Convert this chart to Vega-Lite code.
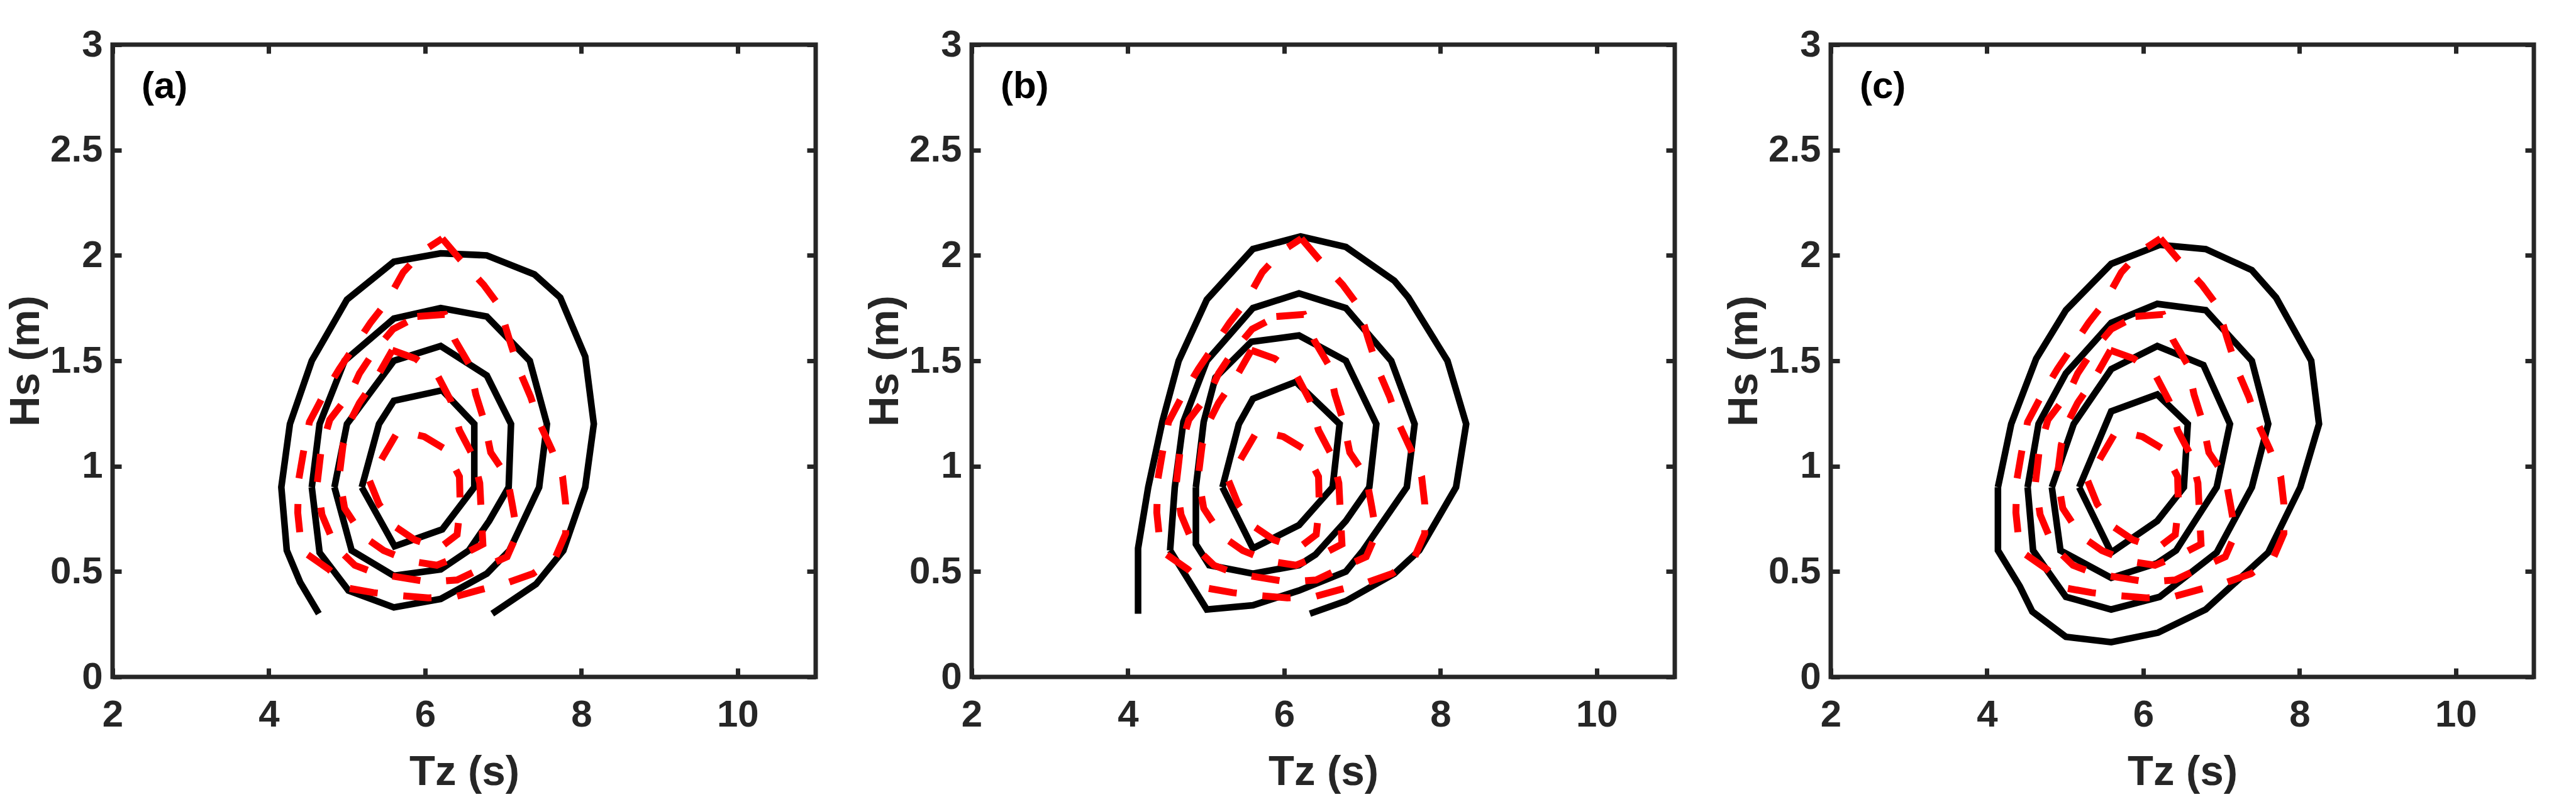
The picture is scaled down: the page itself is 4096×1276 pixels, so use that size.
{
  "$schema": "https://vega.github.io/schema/vega-lite/v6.json",
  "background": "white",
  "autosize": {"type": "pad"},
  "padding": {"left": 4, "top": 37, "right": 0, "bottom": 0},
  "bounds": "flush",
  "spacing": 248,
  "config": {
    "view": {"stroke": "#262626", "strokeWidth": 7},
    "axis": {
      "domain": false, "grid": false, "ticks": true, "tickSize": -14, "tickWidth": 7, "tickColor": "#262626",
      "labelFont": "Liberation Sans Narrow, Liberation Sans, sans-serif", "labelFontSize": 60, "labelFontWeight": "bold", "labelColor": "#262626",
      "titleFont": "Liberation Sans Narrow, Liberation Sans, sans-serif", "titleFontSize": 67, "titleFontWeight": "bold", "titleColor": "#262626",
      "labelFlush": false, "labelOverlap": false
    }
  },
  "datasets": {
    "black": [
      {"p":"a","c":1,"i":0,"x":4.64,"y":0.30},{"p":"a","c":1,"i":1,"x":4.40,"y":0.45},{"p":"a","c":1,"i":2,"x":4.23,"y":0.60},{"p":"a","c":1,"i":3,"x":4.16,"y":0.90},{"p":"a","c":1,"i":4,"x":4.27,"y":1.20},{"p":"a","c":1,"i":5,"x":4.55,"y":1.50},{"p":"a","c":1,"i":6,"x":5.00,"y":1.79},{"p":"a","c":1,"i":7,"x":5.60,"y":1.97},{"p":"a","c":1,"i":8,"x":6.20,"y":2.01},{"p":"a","c":1,"i":9,"x":6.79,"y":2.00},{"p":"a","c":1,"i":10,"x":7.40,"y":1.91},{"p":"a","c":1,"i":11,"x":7.73,"y":1.80},{"p":"a","c":1,"i":12,"x":8.05,"y":1.52},{"p":"a","c":1,"i":13,"x":8.16,"y":1.20},{"p":"a","c":1,"i":14,"x":8.05,"y":0.90},{"p":"a","c":1,"i":15,"x":7.77,"y":0.60},{"p":"a","c":1,"i":16,"x":7.42,"y":0.44},{"p":"a","c":1,"i":17,"x":6.86,"y":0.30},
      {"p":"a","c":2,"i":0,"x":4.55,"y":0.90},{"p":"a","c":2,"i":1,"x":4.65,"y":1.20},{"p":"a","c":2,"i":2,"x":4.97,"y":1.50},{"p":"a","c":2,"i":3,"x":5.60,"y":1.70},{"p":"a","c":2,"i":4,"x":6.20,"y":1.75},{"p":"a","c":2,"i":5,"x":6.79,"y":1.71},{"p":"a","c":2,"i":6,"x":7.34,"y":1.50},{"p":"a","c":2,"i":7,"x":7.56,"y":1.20},{"p":"a","c":2,"i":8,"x":7.46,"y":0.90},{"p":"a","c":2,"i":9,"x":7.08,"y":0.60},{"p":"a","c":2,"i":10,"x":6.79,"y":0.49},{"p":"a","c":2,"i":11,"x":6.20,"y":0.37},{"p":"a","c":2,"i":12,"x":5.60,"y":0.33},{"p":"a","c":2,"i":13,"x":5.02,"y":0.41},{"p":"a","c":2,"i":14,"x":4.65,"y":0.59},{"p":"a","c":2,"i":15,"x":4.55,"y":0.90},
      {"p":"a","c":3,"i":0,"x":4.84,"y":0.90},{"p":"a","c":3,"i":1,"x":5.00,"y":1.20},{"p":"a","c":3,"i":2,"x":5.60,"y":1.50},{"p":"a","c":3,"i":3,"x":6.20,"y":1.57},{"p":"a","c":3,"i":4,"x":6.79,"y":1.43},{"p":"a","c":3,"i":5,"x":7.10,"y":1.20},{"p":"a","c":3,"i":6,"x":7.07,"y":0.90},{"p":"a","c":3,"i":7,"x":6.82,"y":0.74},{"p":"a","c":3,"i":8,"x":6.56,"y":0.60},{"p":"a","c":3,"i":9,"x":6.20,"y":0.51},{"p":"a","c":3,"i":10,"x":5.60,"y":0.48},{"p":"a","c":3,"i":11,"x":5.06,"y":0.60},{"p":"a","c":3,"i":12,"x":4.84,"y":0.90},
      {"p":"a","c":4,"i":0,"x":5.19,"y":0.90},{"p":"a","c":4,"i":1,"x":5.41,"y":1.20},{"p":"a","c":4,"i":2,"x":5.60,"y":1.31},{"p":"a","c":4,"i":3,"x":6.22,"y":1.36},{"p":"a","c":4,"i":4,"x":6.63,"y":1.20},{"p":"a","c":4,"i":5,"x":6.63,"y":0.90},{"p":"a","c":4,"i":6,"x":6.22,"y":0.70},{"p":"a","c":4,"i":7,"x":5.61,"y":0.62},{"p":"a","c":4,"i":8,"x":5.19,"y":0.90},
      {"p":"b","c":1,"i":0,"x":4.13,"y":0.30},{"p":"b","c":1,"i":1,"x":4.13,"y":0.61},{"p":"b","c":1,"i":2,"x":4.26,"y":0.90},{"p":"b","c":1,"i":3,"x":4.44,"y":1.21},{"p":"b","c":1,"i":4,"x":4.65,"y":1.50},{"p":"b","c":1,"i":5,"x":5.01,"y":1.79},{"p":"b","c":1,"i":6,"x":5.60,"y":2.03},{"p":"b","c":1,"i":7,"x":6.21,"y":2.09},{"p":"b","c":1,"i":8,"x":6.79,"y":2.04},{"p":"b","c":1,"i":9,"x":7.41,"y":1.88},{"p":"b","c":1,"i":10,"x":7.59,"y":1.80},{"p":"b","c":1,"i":11,"x":8.09,"y":1.50},{"p":"b","c":1,"i":12,"x":8.33,"y":1.20},{"p":"b","c":1,"i":13,"x":8.20,"y":0.90},{"p":"b","c":1,"i":14,"x":7.73,"y":0.60},{"p":"b","c":1,"i":15,"x":7.41,"y":0.49},{"p":"b","c":1,"i":16,"x":6.79,"y":0.36},{"p":"b","c":1,"i":17,"x":6.33,"y":0.30},
      {"p":"b","c":2,"i":0,"x":4.54,"y":0.60},{"p":"b","c":2,"i":1,"x":4.60,"y":0.90},{"p":"b","c":2,"i":2,"x":4.71,"y":1.21},{"p":"b","c":2,"i":3,"x":5.01,"y":1.50},{"p":"b","c":2,"i":4,"x":5.60,"y":1.75},{"p":"b","c":2,"i":5,"x":6.19,"y":1.82},{"p":"b","c":2,"i":6,"x":6.79,"y":1.75},{"p":"b","c":2,"i":7,"x":7.37,"y":1.50},{"p":"b","c":2,"i":8,"x":7.67,"y":1.20},{"p":"b","c":2,"i":9,"x":7.57,"y":0.90},{"p":"b","c":2,"i":10,"x":7.01,"y":0.60},{"p":"b","c":2,"i":11,"x":6.79,"y":0.50},{"p":"b","c":2,"i":12,"x":6.19,"y":0.41},{"p":"b","c":2,"i":13,"x":5.60,"y":0.34},{"p":"b","c":2,"i":14,"x":5.01,"y":0.32},{"p":"b","c":2,"i":15,"x":4.54,"y":0.60},
      {"p":"b","c":3,"i":0,"x":4.87,"y":0.90},{"p":"b","c":3,"i":1,"x":4.97,"y":1.21},{"p":"b","c":3,"i":2,"x":5.12,"y":1.42},{"p":"b","c":3,"i":3,"x":5.58,"y":1.59},{"p":"b","c":3,"i":4,"x":6.19,"y":1.62},{"p":"b","c":3,"i":5,"x":6.79,"y":1.50},{"p":"b","c":3,"i":6,"x":7.18,"y":1.20},{"p":"b","c":3,"i":7,"x":7.09,"y":0.90},{"p":"b","c":3,"i":8,"x":6.79,"y":0.74},{"p":"b","c":3,"i":9,"x":6.40,"y":0.58},{"p":"b","c":3,"i":10,"x":6.19,"y":0.53},{"p":"b","c":3,"i":11,"x":5.60,"y":0.49},{"p":"b","c":3,"i":12,"x":5.04,"y":0.53},{"p":"b","c":3,"i":13,"x":4.87,"y":0.63},{"p":"b","c":3,"i":14,"x":4.87,"y":0.90},
      {"p":"b","c":4,"i":0,"x":5.21,"y":0.90},{"p":"b","c":4,"i":1,"x":5.42,"y":1.20},{"p":"b","c":4,"i":2,"x":5.60,"y":1.32},{"p":"b","c":4,"i":3,"x":6.15,"y":1.40},{"p":"b","c":4,"i":4,"x":6.71,"y":1.20},{"p":"b","c":4,"i":5,"x":6.62,"y":0.90},{"p":"b","c":4,"i":6,"x":6.19,"y":0.72},{"p":"b","c":4,"i":7,"x":5.60,"y":0.61},{"p":"b","c":4,"i":8,"x":5.21,"y":0.90},
      {"p":"c","c":1,"i":0,"x":4.14,"y":0.90},{"p":"c","c":1,"i":1,"x":4.14,"y":0.60},{"p":"c","c":1,"i":2,"x":4.42,"y":0.43},{"p":"c","c":1,"i":3,"x":4.58,"y":0.31},{"p":"c","c":1,"i":4,"x":5.01,"y":0.19},{"p":"c","c":1,"i":5,"x":5.59,"y":0.165},{"p":"c","c":1,"i":6,"x":6.19,"y":0.21},{"p":"c","c":1,"i":7,"x":6.80,"y":0.32},{"p":"c","c":1,"i":8,"x":7.60,"y":0.59},{"p":"c","c":1,"i":9,"x":8.01,"y":0.90},{"p":"c","c":1,"i":10,"x":8.25,"y":1.20},{"p":"c","c":1,"i":11,"x":8.15,"y":1.50},{"p":"c","c":1,"i":12,"x":7.70,"y":1.80},{"p":"c","c":1,"i":13,"x":7.39,"y":1.93},{"p":"c","c":1,"i":14,"x":6.80,"y":2.03},{"p":"c","c":1,"i":15,"x":6.21,"y":2.05},{"p":"c","c":1,"i":16,"x":5.59,"y":1.96},{"p":"c","c":1,"i":17,"x":5.01,"y":1.74},{"p":"c","c":1,"i":18,"x":4.63,"y":1.51},{"p":"c","c":1,"i":19,"x":4.31,"y":1.20},{"p":"c","c":1,"i":20,"x":4.14,"y":0.90},
      {"p":"c","c":2,"i":0,"x":4.52,"y":0.90},{"p":"c","c":2,"i":1,"x":4.59,"y":0.60},{"p":"c","c":2,"i":2,"x":5.01,"y":0.38},{"p":"c","c":2,"i":3,"x":5.59,"y":0.32},{"p":"c","c":2,"i":4,"x":6.21,"y":0.38},{"p":"c","c":2,"i":5,"x":6.94,"y":0.59},{"p":"c","c":2,"i":6,"x":7.39,"y":0.90},{"p":"c","c":2,"i":7,"x":7.60,"y":1.20},{"p":"c","c":2,"i":8,"x":7.39,"y":1.50},{"p":"c","c":2,"i":9,"x":6.80,"y":1.74},{"p":"c","c":2,"i":10,"x":6.18,"y":1.77},{"p":"c","c":2,"i":11,"x":5.59,"y":1.68},{"p":"c","c":2,"i":12,"x":5.01,"y":1.44},{"p":"c","c":2,"i":13,"x":4.66,"y":1.20},{"p":"c","c":2,"i":14,"x":4.52,"y":0.90},
      {"p":"c","c":3,"i":0,"x":4.83,"y":0.90},{"p":"c","c":3,"i":1,"x":4.94,"y":0.60},{"p":"c","c":3,"i":2,"x":5.59,"y":0.47},{"p":"c","c":3,"i":3,"x":6.18,"y":0.54},{"p":"c","c":3,"i":4,"x":6.42,"y":0.60},{"p":"c","c":3,"i":5,"x":6.94,"y":0.90},{"p":"c","c":3,"i":6,"x":7.11,"y":1.20},{"p":"c","c":3,"i":7,"x":6.77,"y":1.48},{"p":"c","c":3,"i":8,"x":6.18,"y":1.57},{"p":"c","c":3,"i":9,"x":5.59,"y":1.46},{"p":"c","c":3,"i":10,"x":5.11,"y":1.20},{"p":"c","c":3,"i":11,"x":4.83,"y":0.90},
      {"p":"c","c":4,"i":0,"x":5.18,"y":0.90},{"p":"c","c":4,"i":1,"x":5.59,"y":0.59},{"p":"c","c":4,"i":2,"x":6.18,"y":0.74},{"p":"c","c":4,"i":3,"x":6.52,"y":0.90},{"p":"c","c":4,"i":4,"x":6.57,"y":1.20},{"p":"c","c":4,"i":5,"x":6.18,"y":1.34},{"p":"c","c":4,"i":6,"x":5.59,"y":1.26},{"p":"c","c":4,"i":7,"x":5.18,"y":0.90}
    ],
    "red": [
      {"c":1,"i":0,"x":6.22,"y":2.08},{"c":1,"i":1,"x":6.45,"y":1.98},{"c":1,"i":2,"x":6.75,"y":1.86},{"c":1,"i":3,"x":6.95,"y":1.76},{"c":1,"i":4,"x":7.08,"y":1.60},{"c":1,"i":5,"x":7.20,"y":1.46},{"c":1,"i":6,"x":7.35,"y":1.33},{"c":1,"i":7,"x":7.47,"y":1.20},{"c":1,"i":8,"x":7.62,"y":1.08},{"c":1,"i":9,"x":7.76,"y":0.95},{"c":1,"i":10,"x":7.80,"y":0.82},{"c":1,"i":11,"x":7.80,"y":0.68},{"c":1,"i":12,"x":7.66,"y":0.56},{"c":1,"i":13,"x":7.38,"y":0.49},{"c":1,"i":14,"x":7.04,"y":0.445},{"c":1,"i":15,"x":6.72,"y":0.415},{"c":1,"i":16,"x":6.38,"y":0.38},{"c":1,"i":17,"x":6.04,"y":0.375},{"c":1,"i":18,"x":5.70,"y":0.385},{"c":1,"i":19,"x":5.34,"y":0.40},{"c":1,"i":20,"x":5.03,"y":0.42},{"c":1,"i":21,"x":4.77,"y":0.51},{"c":1,"i":22,"x":4.42,"y":0.60},{"c":1,"i":23,"x":4.37,"y":0.78},{"c":1,"i":24,"x":4.38,"y":0.93},{"c":1,"i":25,"x":4.44,"y":1.06},{"c":1,"i":26,"x":4.52,"y":1.21},{"c":1,"i":27,"x":4.72,"y":1.35},{"c":1,"i":28,"x":4.90,"y":1.46},{"c":1,"i":29,"x":5.10,"y":1.57},{"c":1,"i":30,"x":5.30,"y":1.68},{"c":1,"i":31,"x":5.51,"y":1.78},{"c":1,"i":32,"x":5.72,"y":1.92},{"c":1,"i":33,"x":5.97,"y":2.02},{"c":1,"i":34,"x":6.22,"y":2.08},
      {"c":2,"i":0,"x":5.90,"y":1.71},{"c":2,"i":1,"x":6.25,"y":1.72},{"c":2,"i":2,"x":6.38,"y":1.60},{"c":2,"i":3,"x":6.57,"y":1.48},{"c":2,"i":4,"x":6.65,"y":1.34},{"c":2,"i":5,"x":6.76,"y":1.21},{"c":2,"i":6,"x":6.84,"y":1.065},{"c":2,"i":7,"x":7.05,"y":0.95},{"c":2,"i":8,"x":7.12,"y":0.81},{"c":2,"i":9,"x":7.18,"y":0.68},{"c":2,"i":10,"x":7.05,"y":0.57},{"c":2,"i":11,"x":6.72,"y":0.515},{"c":2,"i":12,"x":6.41,"y":0.46},{"c":2,"i":13,"x":6.06,"y":0.45},{"c":2,"i":14,"x":5.72,"y":0.47},{"c":2,"i":15,"x":5.38,"y":0.49},{"c":2,"i":16,"x":5.10,"y":0.53},{"c":2,"i":17,"x":4.85,"y":0.62},{"c":2,"i":18,"x":4.68,"y":0.77},{"c":2,"i":19,"x":4.62,"y":0.92},{"c":2,"i":20,"x":4.67,"y":1.08},{"c":2,"i":21,"x":4.78,"y":1.22},{"c":2,"i":22,"x":5.05,"y":1.35},{"c":2,"i":23,"x":5.16,"y":1.44},{"c":2,"i":24,"x":5.34,"y":1.54},{"c":2,"i":25,"x":5.59,"y":1.65},{"c":2,"i":26,"x":5.90,"y":1.71},
      {"c":3,"i":0,"x":5.58,"y":1.55},{"c":3,"i":1,"x":5.88,"y":1.51},{"c":3,"i":2,"x":6.16,"y":1.43},{"c":3,"i":3,"x":6.33,"y":1.31},{"c":3,"i":4,"x":6.44,"y":1.17},{"c":3,"i":5,"x":6.61,"y":1.05},{"c":3,"i":6,"x":6.70,"y":0.92},{"c":3,"i":7,"x":6.72,"y":0.77},{"c":3,"i":8,"x":6.74,"y":0.63},{"c":3,"i":9,"x":6.48,"y":0.58},{"c":3,"i":10,"x":6.15,"y":0.53},{"c":3,"i":11,"x":5.80,"y":0.55},{"c":3,"i":12,"x":5.47,"y":0.60},{"c":3,"i":13,"x":5.20,"y":0.67},{"c":3,"i":14,"x":4.97,"y":0.80},{"c":3,"i":15,"x":4.90,"y":0.95},{"c":3,"i":16,"x":4.95,"y":1.10},{"c":3,"i":17,"x":5.05,"y":1.22},{"c":3,"i":18,"x":5.16,"y":1.30},{"c":3,"i":19,"x":5.38,"y":1.42},{"c":3,"i":20,"x":5.58,"y":1.55},
      {"c":4,"i":0,"x":5.29,"y":0.93},{"c":4,"i":1,"x":5.41,"y":0.82},{"c":4,"i":2,"x":5.63,"y":0.71},{"c":4,"i":3,"x":5.87,"y":0.65},{"c":4,"i":4,"x":6.18,"y":0.61},{"c":4,"i":5,"x":6.41,"y":0.675},{"c":4,"i":6,"x":6.45,"y":0.81},{"c":4,"i":7,"x":6.44,"y":0.95},{"c":4,"i":8,"x":6.26,"y":1.08},{"c":4,"i":9,"x":5.99,"y":1.14},{"c":4,"i":10,"x":5.66,"y":1.17},{"c":4,"i":11,"x":5.47,"y":1.05},{"c":4,"i":12,"x":5.29,"y":0.93}
    ]
  },
  "hconcat": [
    {
      "width": 1118, "height": 1006,
      "layer": [
        {"data": {"name": "black"}, "transform": [{"filter": "datum.p == 'a'"}],
         "mark": {"type": "line", "color": "#000000", "strokeWidth": 10.5},
         "encoding": {
           "x": {"field": "x", "type": "quantitative", "scale": {"domain": [2, 11], "nice": false, "zero": false}, "axis": {"orient": "bottom", "values": [2, 4, 6, 8, 10], "title": "Tz (s)", "labelPadding": 45, "titlePadding": 28}},
           "y": {"field": "y", "type": "quantitative", "scale": {"domain": [0, 3], "nice": false, "zero": false}, "axis": {"orient": "left", "values": [0, 0.5, 1, 1.5, 2, 2.5, 3], "format": "~g", "title": "Hs (m)", "labelPadding": 30, "titlePadding": 4}},
           "detail": {"field": "c"}, "order": {"field": "i", "type": "quantitative"}}},
        {"data": {"name": "red"},
         "mark": {"type": "line", "color": "#ff0000", "strokeWidth": 11, "strokeDash": [45, 41]},
         "encoding": {
           "x": {"field": "x", "type": "quantitative", "axis": {"orient": "top", "values": [2, 4, 6, 8, 10], "labels": false, "title": null}},
           "y": {"field": "y", "type": "quantitative", "axis": {"orient": "right", "values": [0, 0.5, 1, 1.5, 2, 2.5, 3], "labels": false, "title": null}},
           "detail": {"field": "c"}, "order": {"field": "i", "type": "quantitative"}}},
        {"data": {"values": [{}]},
         "mark": {"type": "text", "align": "left", "baseline": "middle", "font": "Liberation Sans Narrow, Liberation Sans, sans-serif", "fontSize": 60, "fontWeight": "bold", "color": "#000000"},
         "encoding": {"x": {"datum": 2.37, "type": "quantitative", "axis": null}, "y": {"datum": 2.8, "type": "quantitative", "axis": null}, "text": {"value": "(a)"}}}
      ],
      "resolve": {"axis": {"x": "independent", "y": "independent"}}
    },
    {
      "width": 1118, "height": 1006,
      "layer": [
        {"data": {"name": "black"}, "transform": [{"filter": "datum.p == 'b'"}],
         "mark": {"type": "line", "color": "#000000", "strokeWidth": 10.5},
         "encoding": {
           "x": {"field": "x", "type": "quantitative", "scale": {"domain": [2, 11], "nice": false, "zero": false}, "axis": {"orient": "bottom", "values": [2, 4, 6, 8, 10], "title": "Tz (s)", "labelPadding": 45, "titlePadding": 28}},
           "y": {"field": "y", "type": "quantitative", "scale": {"domain": [0, 3], "nice": false, "zero": false}, "axis": {"orient": "left", "values": [0, 0.5, 1, 1.5, 2, 2.5, 3], "format": "~g", "title": "Hs (m)", "labelPadding": 30, "titlePadding": 4}},
           "detail": {"field": "c"}, "order": {"field": "i", "type": "quantitative"}}},
        {"data": {"name": "red"},
         "mark": {"type": "line", "color": "#ff0000", "strokeWidth": 11, "strokeDash": [45, 41]},
         "encoding": {
           "x": {"field": "x", "type": "quantitative", "axis": {"orient": "top", "values": [2, 4, 6, 8, 10], "labels": false, "title": null}},
           "y": {"field": "y", "type": "quantitative", "axis": {"orient": "right", "values": [0, 0.5, 1, 1.5, 2, 2.5, 3], "labels": false, "title": null}},
           "detail": {"field": "c"}, "order": {"field": "i", "type": "quantitative"}}},
        {"data": {"values": [{}]},
         "mark": {"type": "text", "align": "left", "baseline": "middle", "font": "Liberation Sans Narrow, Liberation Sans, sans-serif", "fontSize": 60, "fontWeight": "bold", "color": "#000000"},
         "encoding": {"x": {"datum": 2.37, "type": "quantitative", "axis": null}, "y": {"datum": 2.8, "type": "quantitative", "axis": null}, "text": {"value": "(b)"}}}
      ],
      "resolve": {"axis": {"x": "independent", "y": "independent"}}
    },
    {
      "width": 1118, "height": 1006,
      "layer": [
        {"data": {"name": "black"}, "transform": [{"filter": "datum.p == 'c'"}],
         "mark": {"type": "line", "color": "#000000", "strokeWidth": 10.5},
         "encoding": {
           "x": {"field": "x", "type": "quantitative", "scale": {"domain": [2, 11], "nice": false, "zero": false}, "axis": {"orient": "bottom", "values": [2, 4, 6, 8, 10], "title": "Tz (s)", "labelPadding": 45, "titlePadding": 28}},
           "y": {"field": "y", "type": "quantitative", "scale": {"domain": [0, 3], "nice": false, "zero": false}, "axis": {"orient": "left", "values": [0, 0.5, 1, 1.5, 2, 2.5, 3], "format": "~g", "title": "Hs (m)", "labelPadding": 30, "titlePadding": 4}},
           "detail": {"field": "c"}, "order": {"field": "i", "type": "quantitative"}}},
        {"data": {"name": "red"},
         "mark": {"type": "line", "color": "#ff0000", "strokeWidth": 11, "strokeDash": [45, 41]},
         "encoding": {
           "x": {"field": "x", "type": "quantitative", "axis": {"orient": "top", "values": [2, 4, 6, 8, 10], "labels": false, "title": null}},
           "y": {"field": "y", "type": "quantitative", "axis": {"orient": "right", "values": [0, 0.5, 1, 1.5, 2, 2.5, 3], "labels": false, "title": null}},
           "detail": {"field": "c"}, "order": {"field": "i", "type": "quantitative"}}},
        {"data": {"values": [{}]},
         "mark": {"type": "text", "align": "left", "baseline": "middle", "font": "Liberation Sans Narrow, Liberation Sans, sans-serif", "fontSize": 60, "fontWeight": "bold", "color": "#000000"},
         "encoding": {"x": {"datum": 2.37, "type": "quantitative", "axis": null}, "y": {"datum": 2.8, "type": "quantitative", "axis": null}, "text": {"value": "(c)"}}}
      ],
      "resolve": {"axis": {"x": "independent", "y": "independent"}}
    }
  ]
}
